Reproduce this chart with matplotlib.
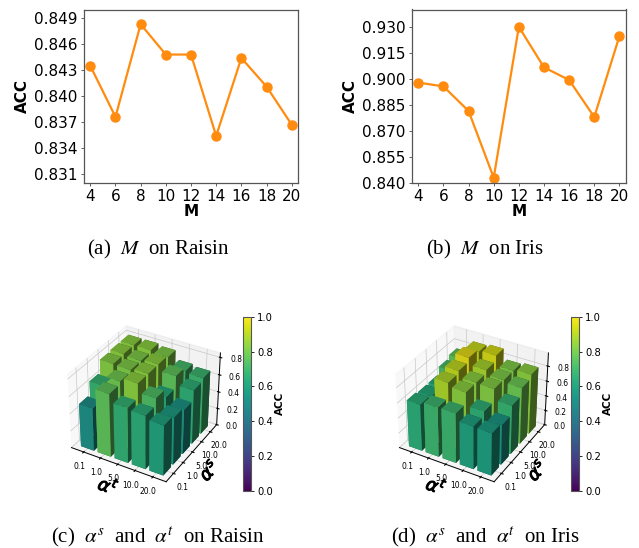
import numpy as np
import matplotlib
matplotlib.use('Agg')
import matplotlib.pyplot as plt
import matplotlib.patheffects as pe
from matplotlib.cm import ScalarMappable
from matplotlib.colors import Normalize

W, H = 639, 548
M_vals = [4, 6, 8, 10, 12, 14, 16, 18, 20]
acc_raisin = [0.8435, 0.8376, 0.8483, 0.8448, 0.8448, 0.8354, 0.8444, 0.8411, 0.8367]
acc_iris = [0.8978, 0.8956, 0.8814, 0.8429, 0.9300, 0.9066, 0.8993, 0.8779, 0.9246]
ticks_raisin = [0.831, 0.834, 0.837, 0.840, 0.843, 0.846, 0.849]
ticks_iris = [0.840, 0.855, 0.870, 0.885, 0.900, 0.915, 0.930]
alpha_labels = ['0.1', '1.0', '5.0', '10.0', '20.0']
# rows: alpha^s from 0.1 to 20; columns: alpha^t from 0.1 to 20
grid_raisin = [
    [0.50, 0.73, 0.64, 0.62, 0.58],
    [0.65, 0.76, 0.80, 0.70, 0.55],
    [0.79, 0.78, 0.80, 0.60, 0.52],
    [0.80, 0.78, 0.80, 0.73, 0.63],
    [0.80, 0.80, 0.78, 0.68, 0.66],
]
grid_iris = [
    [0.62, 0.66, 0.66, 0.57, 0.56],
    [0.60, 0.85, 0.80, 0.63, 0.53],
    [0.60, 0.88, 0.80, 0.79, 0.65],
    [0.69, 0.93, 0.84, 0.78, 0.75],
    [0.73, 0.89, 0.91, 0.78, 0.80],
]
line_color = '#ff8c0f'
captions = [r'(a)  $M$  on Raisin', r'(b)  $M$  on Iris',
            r'(c)  $\alpha^{s}$  and  $\alpha^{t}$  on Raisin',
            r'(d)  $\alpha^{s}$  and  $\alpha^{t}$  on Iris']

plt.rcParams['mathtext.fontset'] = 'stix'
fig = plt.figure(figsize=(W / 100, H / 100), dpi=100)


def box(l, t, r, b):
    return [l / W, 1 - b / H, (r - l) / W, (b - t) / H]


def line_panel(rect, values, ticks, ylim):
    ax = fig.add_axes(box(*rect))
    ax.plot(M_vals, values, color=line_color, lw=1.6, marker='o', ms=6.5)
    ax.set_xlim(3.5, 20.5)
    ax.set_ylim(*ylim)
    ax.set_xticks(M_vals)
    ax.set_yticks(ticks)
    ax.set_yticklabels([f'{t:.3f}' for t in ticks])
    ax.tick_params(labelsize=11, pad=2, length=2.5, width=0.6, color='#444444')
    ax.set_xlabel('M', fontsize=11, fontweight='bold', labelpad=0)
    ax.set_ylabel('ACC', fontsize=11, fontweight='bold', labelpad=3)
    for s in ax.spines.values():
        s.set_color('#555555')
        s.set_linewidth(0.9)


def bar_panel(rect, cbar_rect, grid, ztop):
    ax = fig.add_axes(box(*rect), projection='3d')
    ax.patch.set_alpha(0)
    ax.view_init(elev=34, azim=-60)
    ax.set_box_aspect((4, 4, 3.2))
    g = np.array(grid)
    xs, ys = np.meshgrid(np.arange(5), np.arange(5))
    w = 0.78
    cols = plt.cm.viridis(Normalize(0, 0.96)(g.ravel()))
    ax.bar3d(xs.ravel() - w / 2, ys.ravel() - w / 2, np.zeros(25), w, w, g.ravel(),
             color=cols, edgecolor='none', linewidth=0)
    ax.set_xticks(range(5))
    ax.set_yticks(range(5))
    ax.set_xticklabels(alpha_labels)
    ax.set_yticklabels(alpha_labels)
    ax.set_zticks([0, 0.2, 0.4, 0.6, 0.8])
    ax.set_zlim(0, ztop)
    ax.tick_params(labelsize=5.5, length=2)
    ax.xaxis.set_tick_params(pad=-3)
    ax.yaxis.set_tick_params(pad=-2)
    ax.zaxis.set_tick_params(pad=-1)
    stroke = [pe.withStroke(linewidth=0.7, foreground='black')]
    ax.set_xlabel(r'$\alpha^{t}$', fontsize=13, labelpad=-10, math_fontfamily='dejavusans', path_effects=stroke)
    ax.set_ylabel(r'$\alpha^{s}$', fontsize=13, labelpad=-9, math_fontfamily='dejavusans', path_effects=stroke)
    for a in (ax.xaxis, ax.yaxis, ax.zaxis):
        a._axinfo['grid']['linewidth'] = 0.5
        a._axinfo['grid']['color'] = '#c8c8c8'
        a.line.set_linewidth(0.7)

    cax = fig.add_axes(box(*cbar_rect))
    cb = fig.colorbar(ScalarMappable(Normalize(0, 1), 'viridis'), cax=cax)
    cb.set_ticks([0, 0.2, 0.4, 0.6, 0.8, 1.0])
    cb.ax.tick_params(labelsize=7.2, pad=2, length=2.5, width=0.6)
    cb.set_label('ACC', fontsize=7.5, fontweight='bold', labelpad=1)
    cb.outline.set_edgecolor('#555555')
    cb.outline.set_linewidth(0.8)


line_panel((84, 9.5, 298, 182.7), acc_raisin, ticks_raisin, (0.83, 0.85))
line_panel((412, 9.5, 625.7, 182.7), acc_iris, ticks_iris, (0.84, 0.94))
bar_panel((57, 317, 229, 489), (243, 316.7, 251, 491), grid_raisin, 0.85)
bar_panel((385, 317, 557, 489), (571, 316.7, 579, 491), grid_iris, 0.97)

serif = 'Liberation Serif'
for cx, cy, c in zip([158, 485, 158, 485], [249, 249, 537, 537], captions):
    fig.text(cx / W, 1 - cy / H, c, ha='center', va='center', fontsize=15, family=serif)

fig.savefig('out.png', dpi=100)
